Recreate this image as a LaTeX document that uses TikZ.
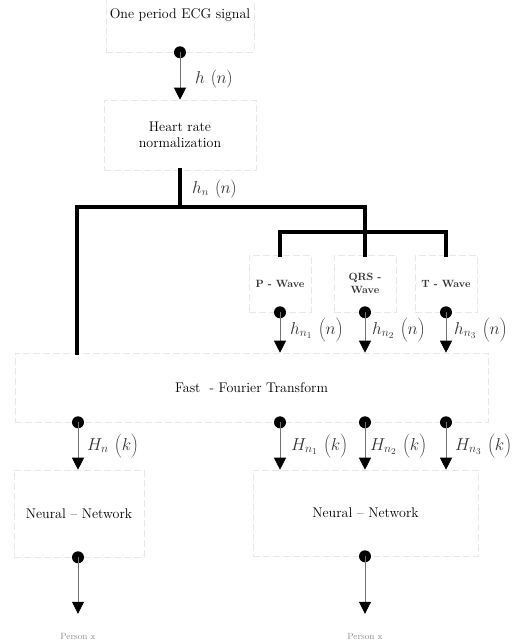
\documentclass[tikz,border=0pt]{standalone}
\usetikzlibrary{arrows.meta}
\newcommand{\tallp}[1]{\,\left(\rule[-0.33em]{0pt}{1.15em}#1\right)}
\begin{document}
\begin{tikzpicture}[x=1pt,y=-1pt,
  faintbox/.style={draw=black!9, line width=0.6pt, dash pattern=on 7pt off 3pt, rectangle, inner sep=0pt, align=center},
  bigtxt/.style={font=\fontsize{14}{16.5}\selectfont},
  wavetxt/.style={font=\fontsize{10.5}{13}\selectfont\bfseries, text=black!80},
  trunk/.style={line width=4pt, line join=miter, line cap=rect},
  sig/.style={draw=black!55, line width=0.8pt, -{Triangle[width=12pt,length=12pt,color=black]}},
  dotnode/.style={fill=black, circle, inner sep=0pt, minimum size=12pt},
  mlab/.style={anchor=west, inner sep=0pt, text=black!80, font=\fontsize{18}{22}\selectfont},
  slab/.style={anchor=west, inner sep=0pt, text=black!80, font=\fontsize{16}{20}\selectfont},
  person/.style={font=\fontsize{9}{10}\selectfont, text=black!45, minimum height=44pt, inner sep=0pt}]
\useasboundingbox (0,0) rectangle (513,642);

% boxes
\node[faintbox, bigtxt, minimum width=148pt, minimum height=74pt] (ecg) at (180,15) {One period ECG signal};
\node[faintbox, bigtxt, minimum width=152pt, minimum height=70pt] (hr) at (180,135) {Heart rate\\normalization};
\node[faintbox, wavetxt, minimum width=62pt, minimum height=57pt] (pw) at (280,283.5) {P - Wave};
\node[faintbox, wavetxt, minimum width=62pt, minimum height=57pt] (qrs) at (365,283.5) {QRS -\\Wave};
\node[faintbox, wavetxt, minimum width=62pt, minimum height=57pt] (tw) at (446,283.5) {T - Wave};
\node[faintbox, bigtxt, minimum width=473pt, minimum height=69pt] (fft) at (251.5,387.5) {Fast \ -\ Fourier Transform};
\node[faintbox, bigtxt, minimum width=130pt, minimum height=87pt] (nn1) at (79,513.5) {Neural -- Network};
\node[faintbox, bigtxt, minimum width=225pt, minimum height=86pt] (nn2) at (365.5,513) {Neural -- Network};
\node[person] (p1) at (78,636) {Person x};
\node[person] (p2) at (365,636) {Person x};

% trunk coordinates
\coordinate (jC) at (180,207);
\coordinate (jL) at (77,207);
\coordinate (jR) at (365,207);
\coordinate (jW) at (365,232);
\coordinate (xL) at (78,0);

% thick distribution lines
\draw[trunk] (hr.south) -- (jC);
\draw[trunk] (fft.north -| jL) -- (jL) -- (jR) -- (qrs.north);
\draw[trunk] (pw.north) -- (pw.north |- jW) -- (tw.north |- jW) -- (tw.north);

% ECG -> HR
\node[dotnode] (d0) at (ecg.south) {};
\draw[sig] (d0.center) -- (hr.north);
\node[slab] (l0) at (195,79) {$h\tallp{n}$};
\node[slab] (l1) at (192,189) {$h_{n}\tallp{n}$};

% waves -> FFT
\node[dotnode] (d1) at (pw.south) {};
\node[dotnode] (d2) at (qrs.south) {};
\node[dotnode] (d3) at (tw.south) {};
\draw[sig] (d1.center) -- (pw.south |- fft.north);
\draw[sig] (d2.center) -- (qrs.south |- fft.north);
\draw[sig] (d3.center) -- (tw.south |- fft.north);
\node[mlab] (l2) at (290,330) {$h_{n_1}\tallp{n}$};
\node[mlab] (l3) at (372,330) {$h_{n_2}\tallp{n}$};
\node[mlab] (l4) at (454,330) {$h_{n_3}\tallp{n}$};

% FFT -> NN
\node[dotnode] (f0) at (fft.south -| xL) {};
\node[dotnode] (f1) at (fft.south -| pw.south) {};
\node[dotnode] (f2) at (fft.south -| qrs.south) {};
\node[dotnode] (f3) at (fft.south -| tw.south) {};
\draw[sig] (f0.center) -- (f0 |- nn1.north);
\draw[sig] (f1.center) -- (f1 |- nn2.north);
\draw[sig] (f2.center) -- (f2 |- nn2.north);
\draw[sig] (f3.center) -- (f3 |- nn2.north);
\node[mlab] (l5) at (87,446) {$H_{n}\tallp{k}$};
\node[mlab] (l6) at (291,446) {$H_{n_1}\tallp{k}$};
\node[mlab] (l7) at (370,446) {$H_{n_2}\tallp{k}$};
\node[mlab] (l8) at (455,446) {$H_{n_3}\tallp{k}$};

% NN -> person
\node[dotnode] (n1) at (nn1.south -| p1.north) {};
\node[dotnode] (n2) at (nn2.south -| p2.north) {};
\draw[sig] (n1.center) -- (p1.north);
\draw[sig] (n2.center) -- (p2.north);
\end{tikzpicture}
\end{document}
